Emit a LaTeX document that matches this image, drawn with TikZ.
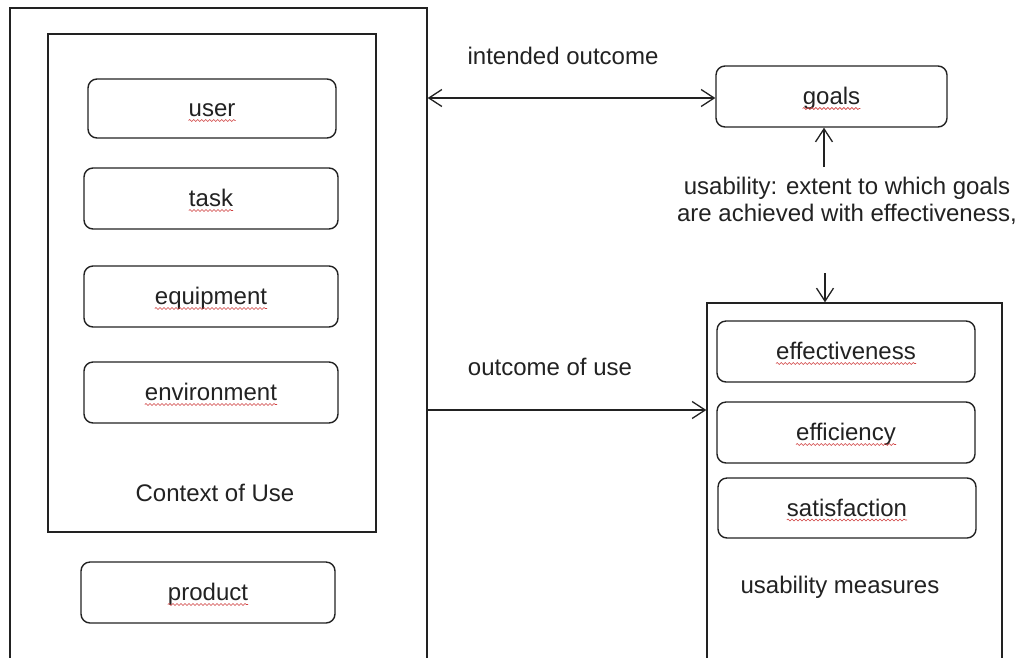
\documentclass[tikz,border=0pt]{standalone}
\usepackage{fontspec}
\setmainfont{Liberation Sans}
\usetikzlibrary{arrows.meta,decorations.pathmorphing}
\definecolor{ink}{HTML}{222222}
\definecolor{squigred}{HTML}{D04040}
\tikzset{
  every node/.style={font=\fontsize{24}{27}\selectfont, text=ink},
  plainbox/.style={draw=ink, line width=1.4pt, rectangle, inner sep=0pt, anchor=center},
  roundbox/.style={draw=ink, line width=1.4pt, rectangle, rounded corners=9pt, inner sep=0pt, anchor=center, minimum width=254pt, minimum height=61pt},
  word/.style={inner sep=0pt, anchor=base, yshift=-8pt},
  lbl/.style={inner sep=0pt},
  arr/.style={draw=ink, line width=1.3pt},
  tip/.style={-{Straight Barb[length=13pt,width=17pt]}},
  tips/.style={{Straight Barb[length=13pt,width=17pt]}-{Straight Barb[length=13pt,width=17pt]}},
  squig/.style={draw=squigred, line width=0.6pt, decorate, decoration={snake, segment length=4pt, amplitude=1pt}}
}
\newcommand{\squiggle}[1]{\draw[squig] ([yshift=-4pt]#1.base west) -- ([yshift=-4pt]#1.base east);}
\begin{document}
\begin{tikzpicture}[x=1pt,y=-1pt]
\clip (0,0) rectangle (1016,657);
\fill[white] (0,0) rectangle (1016,657);

% left side
\node[plainbox, minimum width=417pt, minimum height=654pt] (outer) at (218.5,335) {};
\node[plainbox, minimum width=328pt, minimum height=498pt] (inner) at (212,283) {};
\node[roundbox, minimum width=248pt, minimum height=59pt] (user) at (212,108.5) {};
\node[roundbox] (task) at (211,198.5) {};
\node[roundbox] (equip) at (211,296.5) {};
\node[roundbox] (env) at (211,392.5) {};
\node[roundbox] (prod) at (208,592.5) {};
\node[word] (userw) at (user) {user};
\node[word] (taskw) at (task) {task};
\node[word] (equipw) at (equip) {equipment};
\node[word] (envw) at (env) {environment};
\node[word] (prodw) at (prod) {product};
\node[lbl] (ctx) at (215,493) {Context of Use};

% right side
\node[roundbox, minimum width=231pt] (goals) at (831.5,96.5) {};
\node[word] (goalsw) at (goals) {goals};
\node[plainbox, minimum width=295pt, minimum height=359pt] (meas) at (854.5,482.5) {};
\node[roundbox, minimum width=258pt] (effect) at (846,351.5) {};
\node[roundbox, minimum width=258pt] (effic) at (846,432.5) {};
\node[roundbox, minimum width=258pt, minimum height=60pt] (satis) at (847,508) {};
\node[word] (effectw) at (effect) {effectiveness};
\node[word] (efficw) at (effic) {efficiency};
\node[word] (satisw) at (satis) {satisfaction};
\node[lbl] (umeas) at (840,587) {usability measures};

% labels
\node[lbl] (intended) at (563,56) {intended outcome};
\node[lbl] (outcome) at (550,367) {outcome of use};
\node[lbl, align=center] (usab) at (847,201) {usability: extent to which goals\\are achieved with effectiveness,};

% spell-check squiggles
\squiggle{userw}
\squiggle{taskw}
\squiggle{equipw}
\squiggle{envw}
\squiggle{prodw}
\squiggle{goalsw}
\squiggle{effectw}
\squiggle{efficw}
\squiggle{satisw}

% connectors
\coordinate (ia) at (427,98);
\coordinate (ua) at (824,167);
\coordinate (da) at (825,273);
\coordinate (oa) at (427,410);
\draw[arr, tips] (outer.east |- ia) -- (goals.west |- ia);
\draw[arr, tip] (ua) -- (ua |- goals.south);
\draw[arr, tip] (da) -- (da |- meas.north);
\draw[arr, tip] (outer.east |- oa) -- (meas.west |- oa);
\end{tikzpicture}
\end{document}
